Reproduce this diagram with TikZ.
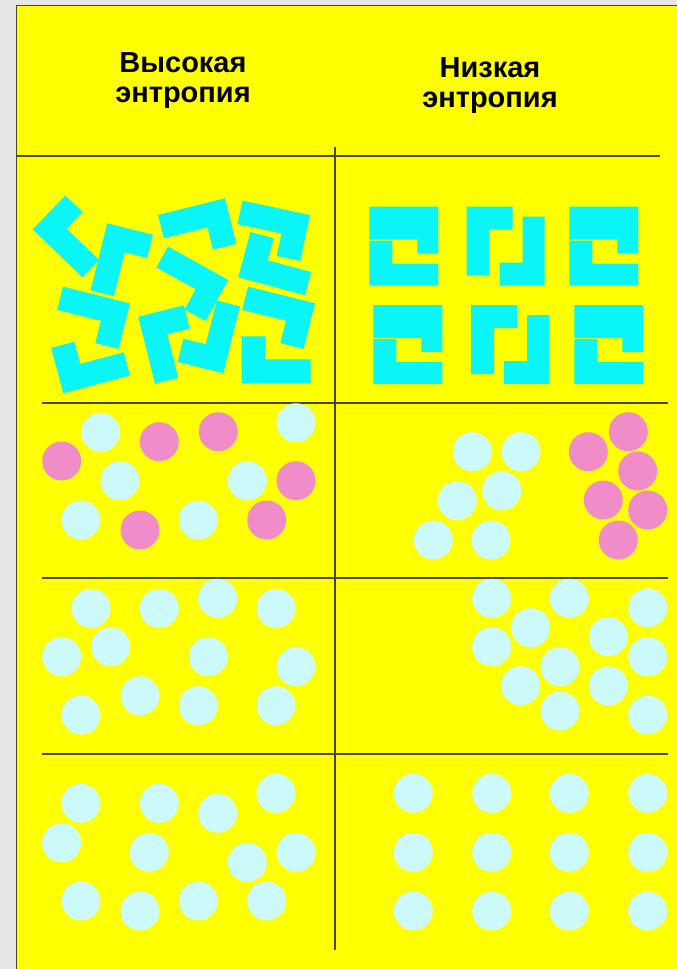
\documentclass[tikz,border=0pt]{standalone}
\usepackage{fontspec}
\setmainfont{Liberation Sans}

\definecolor{pagegray}{RGB}{230,230,230}
\definecolor{panelyellow}{RGB}{255,255,0}
\definecolor{tetrocyan}{RGB}{10,245,245}
\definecolor{ballblue}{RGB}{204,250,250}
\definecolor{ballpink}{RGB}{240,140,200}
\definecolor{gridline}{RGB}{70,70,40}

\tikzset{
  tetro/.style={fill=tetrocyan},
  ball blue/.style={fill=ballblue},
  ball pink/.style={fill=ballpink},
  grid line/.style={draw=gridline, line width=1.2pt},
  header/.style={font=\bfseries\fontsize{29}{30}\selectfont, align=center, inner sep=0pt},
}

% L-Stueck: Ecke (x,y), Winkel des langen Schenkels (Bildschirmwinkel, y nach unten)
\newcommand{\tetropiece}[3]{%
  \fill[tetro] (#1,#2) -- ++(#3:69) -- ++(#3-90:24) -- ++(#3:-45)
    -- ++(#3-90:23) -- ++(#3:-24) -- cycle;}

\begin{document}
\begin{tikzpicture}[x=1pt, y=-1pt]
  \useasboundingbox (0,0) rectangle (677,969);
  % Hintergrund
  \fill[pagegray] (0,0) rectangle (677,969);
  \fill[panelyellow] (16,5) rectangle (677,969);
  \draw[gridline, line width=1pt] (16,969) -- (16,5) -- (677,5);

  % Kopfzeile
  \node[header] (hdrhigh) at (183,81) {Высокая\\энтропия};
  \node[header] (hdrlow) at (490,86) {Низкая\\энтропия};

  % Gitter
  \draw[grid line] (16,156) -- (660,156);
  \draw[grid line] (335,147) -- (335,950);
  \foreach \y in {403,578,754}
    \draw[grid line] (42,\y) -- (668,\y);

  % Tetrominos, ungeordnet
  \tetropiece{32.7}{229.3}{44}
  \tetropiece{107.3}{223.3}{104}
  \tetropiece{225}{198.3}{166}
  \tetropiece{310}{215}{192}
  \tetropiece{238.3}{277.3}{15}
  \tetropiece{228.3}{280}{209}
  \tetropiece{130}{303.3}{194}
  \tetropiece{63.3}{393.3}{-15}
  \tetropiece{138.3}{316.7}{76}
  \tetropiece{223.3}{373.3}{-76}
  \tetropiece{315}{303.3}{194}
  \tetropiece{241.7}{383.3}{0}

  % Tetrominos, geordnet
  \foreach \gx/\gy in {369.3/206.7, 569.3/206.7, 373.3/305, 574.3/305} {
    \begin{scope}[shift={(\gx,\gy)}]
      \fill[tetro] (0,0) -- (69,0) -- (69,47) -- (48,47) -- (48,33) -- (0,33) -- cycle;
      \fill[tetro] (0,34) -- (23,34) -- (23,57) -- (69,57) -- (69,79) -- (0,79) -- cycle;
    \end{scope}
  }
  \foreach \gx/\gy in {466.7/206.7, 471/305} {
    \begin{scope}[shift={(\gx,\gy)}]
      \fill[tetro] (0,0) -- (46,0) -- (46,23) -- (23,23) -- (23,69) -- (0,69) -- cycle;
      \fill[tetro] (56,10) -- (78,10) -- (78,79) -- (33,79) -- (33,56) -- (56,56) -- cycle;
    \end{scope}
  }

  % zwei Sorten gemischt / getrennt
  \foreach \x/\y in {100.7/432.3, 296/422.7, 120/480.7, 247.3/480.7, 81/520, 198.3/520,
                     472.3/451.7, 521/451.7, 457.3/500.7, 501.7/490.7, 433.3/540, 491/540}
    \fill[ball blue] (\x,\y) circle[radius=19.5pt];
  \foreach \x/\y in {61.7/461, 159.3/441.7, 218.3/431.7, 296/480.7, 140/530, 266.7/520,
                     628.3/431.7, 588.3/451.7, 637.7/471, 603.3/500, 647.7/510, 618.3/540}
    \fill[ball pink] (\x,\y) circle[radius=19.5pt];

  % Gas / Haufen
  \foreach \x/\y in {91/608.3, 159.3/608.3, 217.7/598.3, 276/608.3, 61.7/656.7, 110.7/646.7,
                     208.3/656.7, 296/666.7, 140/695.7, 198.3/705.7, 276/705.7, 81/715,
                     491.7/598.3, 569.3/598.3, 647.7/607.7, 530.7/627.7, 491.7/646.7, 608.3/636.7,
                     647.7/656.7, 560/666.7, 520.7/685.7, 608.3/685.7, 560/711, 647.7/715}
    \fill[ball blue] (\x,\y) circle[radius=19.5pt];

  % Fluessigkeit / Kristall
  \foreach \x/\y in {81/803.3, 159.3/803.3, 217.7/813.3, 276/793.3, 61.7/842.7, 149.3/852.3,
                     247.3/862.3, 296/852.3, 81/901, 140/911, 198.3/901, 266.7/901}
    \fill[ball blue] (\x,\y) circle[radius=19.5pt];
  \foreach \x in {413.3,491.7,569.3,647.7}
    \foreach \y in {793.3,852.3,911}
      \fill[ball blue] (\x,\y) circle[radius=19.5pt];
\end{tikzpicture}
\end{document}
